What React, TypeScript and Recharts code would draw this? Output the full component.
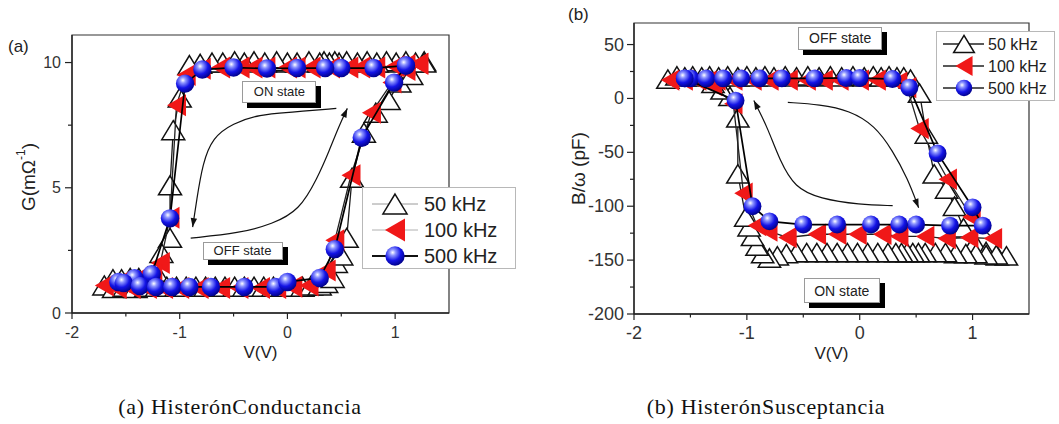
import React from "react";
import {
  Legend,
  ReferenceArea,
  Scatter,
  ScatterChart,
  XAxis,
  YAxis,
} from "recharts";

type Pair = [number, number];

const freqLabels = ["50 kHz", "100 kHz", "500 kHz"];
const voltDomain: Pair = [-2, 1.5];
const voltTicks = [-2, -1.5, -1, -0.5, 0, 0.5, 1];

// (a) conductance G (mΩ⁻¹) against bias V (V)
const condDomain: Pair = [0, 11.1];
const condTicks = [0, 2.5, 5, 7.5, 10];

const cond50kHz: Pair[] = [
  [1.27, 10.05], [1.19, 10.0], [1.10, 10.05], [1.01, 10.0], [0.92, 10.05],
  [0.83, 10.0], [0.74, 10.05], [0.65, 10.0], [0.55, 10.05], [0.48, 10.0],
  [0.44, 10.05], [0.39, 10.0], [0.34, 10.05], [0.30, 10.0], [0.20, 10.05],
  [0.09, 10.0], [0.00, 10.0], [-0.10, 10.05], [-0.21, 10.0], [-0.31, 10.05],
  [-0.40, 10.0], [-0.49, 10.05], [-0.60, 10.0], [-0.70, 10.0], [-0.81, 9.95],
  [-0.91, 9.9], [-1.00, 8.6], [-1.06, 7.3], [-1.09, 5.1], [-1.09, 3.0],
  [-1.17, 2.4], [-1.22, 1.65], [-1.30, 1.45], [-1.38, 1.4], [-1.46, 1.4],
  [-1.54, 1.35], [-1.62, 1.35], [-1.70, 1.1], [-1.61, 1.0], [-1.51, 1.05],
  [-1.41, 1.0], [-1.31, 1.05], [-1.21, 1.05], [-1.12, 1.05], [-1.03, 1.05],
  [-0.94, 1.05], [-0.85, 1.05], [-0.76, 1.05], [-0.67, 1.05], [-0.58, 1.05],
  [-0.49, 1.05], [-0.40, 1.05], [-0.31, 1.05], [-0.22, 1.05], [-0.13, 1.05],
  [-0.04, 1.05], [0.05, 1.05], [0.14, 1.05], [0.22, 1.1], [0.30, 1.1],
  [0.36, 1.2], [0.42, 1.4], [0.45, 2.0], [0.50, 2.3], [0.55, 3.0],
  [0.60, 5.4], [0.71, 7.2], [0.82, 8.0], [0.94, 8.5], [1.04, 9.2],
  [1.15, 9.5], [1.27, 10.0],
];

const cond100kHz: Pair[] = [
  [1.22, 9.95], [1.10, 9.9], [1.00, 9.85], [0.82, 9.8], [0.68, 9.8],
  [0.57, 9.8], [0.40, 9.8], [0.22, 9.8], [0.08, 9.8], [0.00, 9.8],
  [-0.20, 9.8], [-0.32, 9.8], [-0.44, 9.8], [-0.62, 9.8], [-0.80, 9.75],
  [-0.94, 9.5], [-1.03, 8.3], [-1.09, 3.8], [-1.18, 2.0], [-1.25, 1.5],
  [-1.40, 1.35], [-1.55, 1.25], [-1.70, 1.1], [-1.58, 1.0], [-1.45, 1.0],
  [-1.30, 1.0], [-1.15, 1.0], [-1.00, 1.0], [-0.82, 1.0], [-0.62, 1.0],
  [-0.45, 1.0], [-0.25, 1.0], [-0.10, 1.0], [0.05, 1.05], [0.20, 1.1],
  [0.36, 1.7], [0.44, 2.9], [0.59, 5.5], [0.78, 8.0], [0.97, 9.2],
  [1.10, 9.7], [1.22, 9.95],
];

const cond500kHz: Pair[] = [
  [1.10, 9.88], [0.80, 9.78], [0.50, 9.78], [0.35, 9.78], [0.09, 9.78],
  [-0.19, 9.76], [-0.50, 9.8], [-0.79, 9.72], [-0.95, 9.16], [-1.09, 3.78],
  [-1.26, 1.55], [-1.42, 1.39], [-1.57, 1.24], [-1.52, 1.2], [-1.37, 1.08],
  [-1.22, 1.04], [-1.07, 1.04], [-0.91, 1.04], [-0.71, 1.04], [-0.40, 1.04],
  [-0.11, 1.04], [0.00, 1.24], [0.30, 1.4], [0.44, 2.55], [0.69, 7.0],
  [0.99, 9.2], [1.10, 9.88],
];

const condArrows = [
  {
    path: [[0.454, 8.17], [0.019, 8.01], [-0.259, 7.93], [-0.509, 7.57], [-0.694, 7.01], [-0.787, 5.98], [-0.843, 4.5], [-0.88, 3.43]] as Pair[],
    head: 98,
  },
  {
    path: [[-0.898, 2.99], [-0.444, 3.19], [-0.139, 3.55], [0.111, 4.1], [0.278, 5.38], [0.389, 6.49], [0.481, 7.49], [0.556, 8.17]] as Pair[],
    head: -65,
  },
];

const condNotes = [
  { text: "ON state", v: -0.074, y: 8.84 },
  { text: "OFF state", v: -0.417, y: 2.49 },
];

// (b) susceptance B/ω (pF) against bias V (V)
const suscDomain: Pair = [-200, 70];
const suscTicks = [-200, -175, -150, -125, -100, -75, -50, -25, 0, 25, 50];

const susc50kHz: Pair[] = [
  [-1.70, 18], [-1.62, 21], [-1.55, 20], [-1.48, 21], [-1.40, 20],
  [-1.33, 21], [-1.25, 20], [-1.17, 21], [-1.08, 20], [-1.00, 21],
  [-0.92, 20], [-0.84, 21], [-0.76, 20], [-0.66, 21], [-0.56, 20],
  [-0.46, 21], [-0.36, 20], [-0.26, 21], [-0.16, 20], [-0.06, 21],
  [0.04, 20], [0.12, 21], [0.19, 20], [0.26, 21], [0.33, 20],
  [0.39, 20], [0.45, 18], [0.53, 5], [0.59, -33], [0.66, -70],
  [0.77, -84], [0.84, -100], [0.92, -120], [1.02, -134], [1.12, -142],
  [1.22, -146], [1.30, -146], [1.21, -145], [1.12, -145], [1.03, -144],
  [0.94, -144], [0.85, -144], [0.76, -143], [0.67, -143], [0.58, -143],
  [0.52, -143], [0.47, -143], [0.42, -143], [0.37, -143], [0.32, -143],
  [0.25, -143], [0.16, -143], [0.07, -143], [-0.02, -143], [-0.11, -143],
  [-0.20, -143], [-0.29, -143], [-0.38, -143], [-0.47, -143], [-0.56, -143],
  [-0.65, -144], [-0.73, -146], [-0.80, -148], [-0.86, -144], [-0.91, -137],
  [-0.95, -128], [-0.98, -119], [-1.01, -110], [-1.08, -70], [-1.08, -18],
  [-1.15, 2], [-1.22, 8], [-1.30, 14],
];

const susc100kHz: Pair[] = [
  [-1.68, 17], [-1.56, 17], [-1.44, 17], [-1.35, 16], [-1.27, 17],
  [-1.12, 17], [-0.95, 17], [-0.80, 17], [-0.63, 17], [-0.47, 17],
  [-0.32, 17], [-0.18, 17], [0.00, 17], [0.15, 17], [0.34, 15],
  [0.42, 10], [0.53, -28], [0.78, -75], [0.99, -110], [1.18, -130],
  [0.97, -129], [0.77, -130], [0.58, -128], [0.35, -128], [0.20, -126],
  [-0.02, -126], [-0.20, -126], [-0.38, -126], [-0.64, -129], [-0.81, -123],
  [-0.91, -118], [-1.03, -88], [-1.12, -5], [-1.30, 12],
];

const susc500kHz: Pair[] = [
  [-1.55, 18.6], [-1.50, 18.6], [-1.36, 18.6], [-1.21, 18.6], [-1.05, 18.6],
  [-0.89, 18.6], [-0.69, 18.6], [-0.40, 18.6], [-0.12, 19], [0.00, 19],
  [0.29, 18], [0.44, 10], [0.69, -51], [1.00, -101], [1.09, -118],
  [0.80, -118], [0.50, -117], [0.35, -117], [0.10, -117], [-0.20, -117],
  [-0.50, -117], [-0.80, -114], [-0.95, -100], [-1.10, -2], [-1.55, 18.6],
];

const suscArrows = [
  {
    path: [[0.292, -99.5], [0, -98.6], [-0.354, -93], [-0.575, -82.8], [-0.708, -57.7], [-0.814, -27.9], [-0.894, -11.2], [-0.938, -1.9]] as Pair[],
    head: -117,
  },
  {
    path: [[-0.637, -3.7], [-0.354, -5.6], [-0.088, -11.2], [0.133, -25.1], [0.292, -48.4], [0.425, -74.4], [0.522, -101.4]] as Pair[],
    head: 69,
  },
];

const suscNotes = [
  { text: "OFF state", v: -0.173, y: 55.8 },
  { text: "ON state", v: -0.159, y: -178.6 },
];

const toPoints = (pairs: Pair[]) => pairs.map(([v, y]) => ({ v, y }));

const lineStyles = [
  { stroke: "#1a1a1a", strokeWidth: 1.3 },
  { stroke: "#222", strokeWidth: 1.3 },
  { stroke: "#000", strokeWidth: 1.7 },
];

function drawMarker(kind: number, cx: number, cy: number, k: number, ball: string) {
  if (cx == null || cy == null) return <g />;
  if (kind === 0) {
    const w = 23 * k;
    const h = 19 * k;
    return (
      <polygon
        points={`${cx},${cy - h / 2} ${cx + w / 2},${cy + h / 2} ${cx - w / 2},${cy + h / 2}`}
        fill="#fff"
        stroke="#111"
        strokeWidth={1.5}
      />
    );
  }
  if (kind === 1) {
    const w = 19 * k;
    const h = 22 * k;
    return (
      <polygon
        points={`${cx - w / 2},${cy} ${cx + w / 2},${cy - h / 2} ${cx + w / 2},${cy + h / 2}`}
        fill="#f01818"
      />
    );
  }
  return <circle cx={cx} cy={cy} r={9.2 * k} fill={`url(#${ball})`} />;
}

const arrowTip = (p: any) => {
  const { cx, cy, payload } = p;
  if (payload == null || payload.head == null) return <g />;
  return (
    <polygon
      points={`${cx},${cy} ${cx - 9},${cy - 3.2} ${cx - 9},${cy + 3.2}`}
      transform={`rotate(${payload.head} ${cx} ${cy})`}
      fill="#111"
    />
  );
};

const xTick = (fs: number) => (t: any) => {
  const major = Number.isInteger(t.payload.value);
  return (
    <g>
      <line x1={t.x} x2={t.x} y1={t.y} y2={t.y + (major ? 6 : 3.5)} stroke="#222" strokeWidth={1.2} />
      {major && (
        <text x={t.x} y={t.y + 19} textAnchor="middle" dominantBaseline="central" fontSize={fs} fill="#333">
          {t.payload.value}
        </text>
      )}
    </g>
  );
};

const yTick = (step: number, fs: number, gap: number) => (t: any) => {
  const major = t.payload.value % step === 0;
  return (
    <g>
      <line x1={t.x} x2={t.x - (major ? 7 : 4)} y1={t.y} y2={t.y} stroke="#222" strokeWidth={1.2} />
      {major && (
        <text x={t.x - gap} y={t.y} textAnchor="end" dominantBaseline="central" fontSize={fs} fill="#333">
          {t.payload.value}
        </text>
      )}
    </g>
  );
};

// "ON/OFF state" tag: white box with a solid drop shadow, laid over the plot
function StateTag({ p, note, size }: any) {
  const plotLeft = p.margin.left + p.yAxisWidth;
  const plotW = p.width - plotLeft - p.margin.right;
  const plotH = p.height - p.margin.top - p.margin.bottom - 40;
  const [x0, x1] = voltDomain;
  const [y0, y1] = p.yDomain;
  const cx = plotLeft + ((note.v - x0) / (x1 - x0)) * plotW;
  const cy = p.margin.top + ((y1 - note.y) / (y1 - y0)) * plotH;
  return (
    <div
      style={{
        position: "absolute",
        left: cx - size[0] / 2,
        top: cy - size[1] / 2,
        width: size[0],
        height: size[1],
        boxSizing: "border-box",
        border: "1px solid #9a9a9a",
        background: "#fff",
        boxShadow: "5px 5px 0 0 #000",
        display: "flex",
        alignItems: "center",
        justifyContent: "center",
        fontSize: p.noteFont,
        color: "#222",
        whiteSpace: "nowrap",
      }}
    >
      {note.text}
    </div>
  );
}

function LegendBox({ lg, ball }: any) {
  return (
    <div
      style={{
        width: lg.width,
        height: lg.height,
        boxSizing: "border-box",
        border: "1px solid #b8b8b8",
        background: "#fff",
      }}
    >
      <svg width={lg.width - 2} height={lg.height - 2} style={{ display: "block" }}>
        {freqLabels.map((label, i) => (
          <g key={label}>
            <line
              x1={lg.lineX[0]}
              x2={lg.lineX[1]}
              y1={lg.rowY[i]}
              y2={lg.rowY[i]}
              stroke={lg.lineColors[i]}
              strokeWidth={lg.lineWidths[i]}
            />
            {drawMarker(i, lg.symX, lg.rowY[i], lg.k, ball)}
            <text
              x={lg.textX}
              y={lg.rowY[i]}
              dominantBaseline="central"
              fontSize={lg.fontSize}
              fill="#222"
            >
              {label}
            </text>
          </g>
        ))}
      </svg>
    </div>
  );
}

function Panel(p: any) {
  const ball = `${p.id}-ball`;
  const plotW = p.width - p.margin.left - p.margin.right - p.yAxisWidth;
  return (
    <div style={{ position: "absolute", left: p.left, top: 0, width: p.width, height: p.height }}>
      <ScatterChart width={p.width} height={p.height} margin={p.margin}>
        <defs>
          <radialGradient id={ball} cx="38%" cy="32%" r="70%">
            <stop offset="0%" stopColor="#ffffff" />
            <stop offset="22%" stopColor="#8d95ff" />
            <stop offset="60%" stopColor="#1414e6" />
            <stop offset="100%" stopColor="#000088" />
          </radialGradient>
        </defs>
        <XAxis
          type="number"
          dataKey="v"
          domain={voltDomain}
          ticks={voltTicks}
          interval={0}
          allowDataOverflow
          tickSize={0}
          tickMargin={0}
          tick={xTick(p.tickFont)}
          axisLine={{ stroke: "#222", strokeWidth: 1.3 }}
          height={40}
          label={{
            content: (lp: any) => (
              <text
                x={lp.viewBox.x + plotW / 2}
                y={lp.viewBox.y + 39}
                textAnchor="middle"
                dominantBaseline="central"
                fontSize={17}
                fill="#222"
              >
                V(V)
              </text>
            ),
          }}
        />
        <YAxis
          type="number"
          dataKey="y"
          domain={p.yDomain}
          ticks={p.yTicks}
          interval={0}
          allowDataOverflow
          tickSize={0}
          tickMargin={0}
          tick={yTick(p.yStep, p.tickFont, p.yGap)}
          axisLine={{ stroke: "#222", strokeWidth: 1.3 }}
          width={p.yAxisWidth}
          label={{
            content: (lp: any) => {
              const x = lp.viewBox.x + lp.viewBox.width - p.yTitleGap;
              const y = lp.viewBox.y + lp.viewBox.height / 2 + p.yTitleShift;
              return (
                <text
                  x={x}
                  y={y}
                  transform={`rotate(-90 ${x} ${y})`}
                  textAnchor="middle"
                  dominantBaseline="central"
                  fontSize={19}
                  fill="#222"
                >
                  {p.yTitle}
                </text>
              );
            },
          }}
        />
        <ReferenceArea
          x1={voltDomain[0]}
          x2={voltDomain[1]}
          y1={p.yDomain[0]}
          y2={p.yDomain[1]}
          fill="none"
          stroke="#333"
          strokeWidth={1.2}
        />
        {p.arrows.map((a: any, i: number) => (
          <Scatter
            key={`arrow-${i}`}
            data={a.path.map(([v, y]: Pair, j: number) => ({
              v,
              y,
              head: j === a.path.length - 1 ? a.head : null,
            }))}
            line={{ stroke: "#111", strokeWidth: 1.2 }}
            lineJointType="basis"
            shape={arrowTip}
            legendType="none"
            isAnimationActive={false}
          />
        ))}
        {p.series.map((s: Pair[], i: number) => (
          <Scatter
            key={freqLabels[i]}
            name={freqLabels[i]}
            data={toPoints(s)}
            line={lineStyles[i]}
            lineJointType="linear"
            shape={(pt: any) => drawMarker(i, pt.cx, pt.cy, p.markerScale, ball)}
            isAnimationActive={false}
          />
        ))}
        <Legend
          layout="horizontal"
          verticalAlign="middle"
          align="center"
          wrapperStyle={{
            left: p.legend.left,
            top: p.legend.top,
            width: p.legend.width,
            height: p.legend.height,
          }}
          content={() => <LegendBox lg={p.legend} ball={ball} />}
        />
      </ScatterChart>
      {p.notes.map((n: any, i: number) => (
        <StateTag key={n.text} p={p} note={n} size={p.noteBox[i]} />
      ))}
      <div
        style={{
          position: "absolute",
          left: p.tag[0],
          top: p.tag[1],
          fontSize: 17,
          lineHeight: "17px",
          color: "#222",
        }}
      >
        {p.tagText}
      </div>
    </div>
  );
}

const panelA = {
  id: "cond",
  left: 0,
  width: 530,
  height: 370,
  margin: { top: 35, right: 81, bottom: 17, left: 20 },
  yAxisWidth: 52,
  yDomain: condDomain,
  yTicks: condTicks,
  yStep: 5,
  yGap: 11,
  tickFont: 16,
  yTitle: (
    <>
      G(mΩ
      <tspan dy={-7} fontSize={12}>
        -1
      </tspan>
      <tspan dy={7}>)</tspan>
    </>
  ),
  yTitleGap: 44,
  yTitleShift: 3,
  markerScale: 1,
  series: [cond50kHz, cond100kHz, cond500kHz],
  arrows: condArrows,
  notes: condNotes,
  noteBox: [
    [74, 22],
    [80, 18],
  ],
  noteFont: 13,
  legend: {
    left: 362,
    top: 187,
    width: 154,
    height: 82,
    rowY: [16, 42, 68],
    lineX: [9, 55],
    symX: 32,
    textX: 61,
    fontSize: 20,
    k: 1.05,
    lineColors: ["#9a9a9a", "#b0b0b0", "#111"],
    lineWidths: [1, 1, 2],
  },
  tag: [8, 38],
  tagText: "(a)",
};

const panelB = {
  id: "susc",
  left: 530,
  width: 529,
  height: 370,
  margin: { top: 23, right: 30, bottom: 16, left: 44 },
  yAxisWidth: 60,
  yDomain: suscDomain,
  yTicks: suscTicks,
  yStep: 50,
  yGap: 10,
  tickFont: 18,
  yTitle: "B/ω (pF)",
  yTitleGap: 56,
  yTitleShift: 0,
  markerScale: 0.97,
  series: [susc50kHz, susc100kHz, susc500kHz],
  arrows: suscArrows,
  notes: suscNotes,
  noteBox: [
    [84, 23],
    [76, 25],
  ],
  noteFont: 14,
  legend: {
    left: 406,
    top: 31,
    width: 119,
    height: 70,
    rowY: [12, 34, 56],
    lineX: [6, 47],
    symX: 27,
    textX: 51,
    fontSize: 16,
    k: 0.9,
    lineColors: ["#222", "#222", "#222"],
    lineWidths: [1.5, 1.5, 1.5],
  },
  tag: [38, 6],
  tagText: "(b)",
};

const captions = [
  { text: "(a) HisterónConductancia", center: 240 },
  { text: "(b) HisterónSusceptancia", center: 766 },
];

export default function App() {
  return (
    <div
      style={{
        position: "absolute",
        left: 0,
        top: 0,
        width: 1059,
        height: 424,
        background: "#fff",
        fontFamily: "'Liberation Sans', Arial, sans-serif",
        overflow: "hidden",
      }}
    >
      <Panel {...panelA} />
      <Panel {...panelB} />
      {captions.map((c) => (
        <div
          key={c.text}
          style={{
            position: "absolute",
            left: c.center - 200,
            top: 394,
            width: 400,
            textAlign: "center",
            fontFamily: "'Liberation Serif', 'DejaVu Serif', serif",
            fontSize: 22,
            letterSpacing: "0.7px",
            lineHeight: "26px",
            color: "#111",
          }}
        >
          {c.text}
        </div>
      ))}
    </div>
  );
}
